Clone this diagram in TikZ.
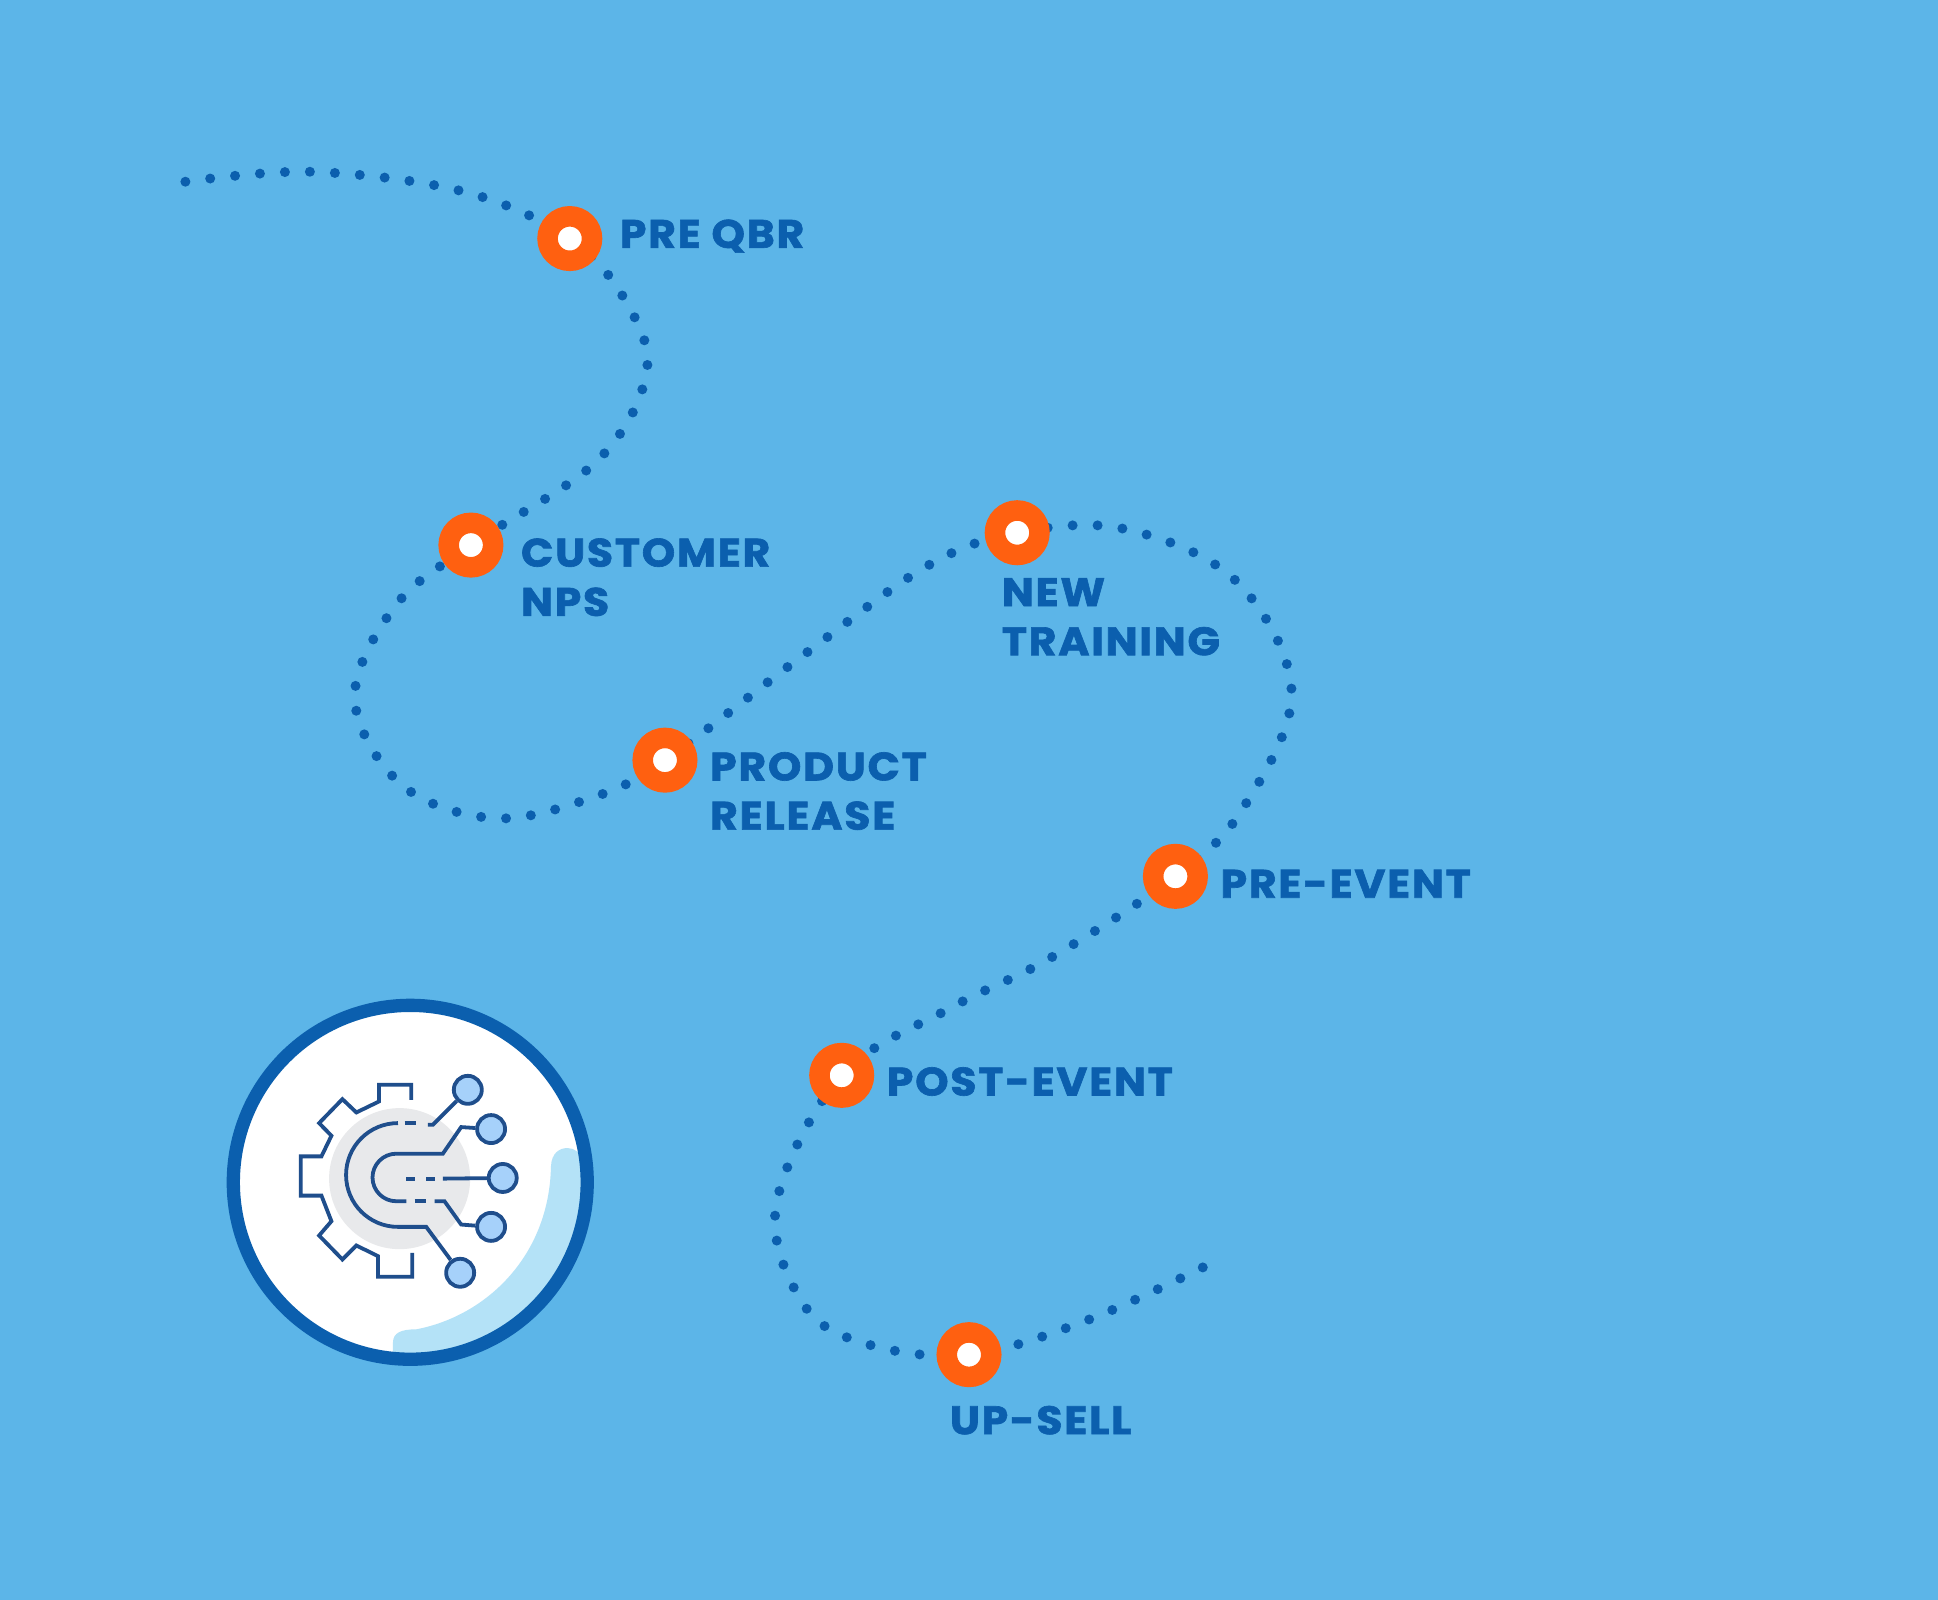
\documentclass[tikz,border=0pt]{standalone}
\usepackage{fontspec}
\setmainfont{Poppins}
\newfontfamily\stopfont[FakeStretch=1.07, FakeBold=1.6, LetterSpace=4.5]{Poppins}
\usetikzlibrary{backgrounds}
\definecolor{skycolor}{RGB}{92,181,232}
\definecolor{trailcolor}{RGB}{11,95,174}
\definecolor{stopcolor}{RGB}{255,96,16}
\definecolor{iconcolor}{RGB}{31,78,140}
\definecolor{tipcolor}{RGB}{166,209,250}
\definecolor{diskcolor}{RGB}{232,233,235}
\definecolor{swoopcolor}{RGB}{180,226,247}

\begin{document}
\begin{tikzpicture}[
    x=0.01236cm, y=-0.01236cm,
    stop/.style={circle, draw=stopcolor, fill=white, line width=2.05mm, minimum size=4.45mm, inner sep=0pt},
    stoplabel/.style={anchor=west, align=left, inner sep=0pt, text=trailcolor, font=\fontsize{11.3}{14}\stopfont\bfseries},
    trail/.style={draw=trailcolor, line width=1mm, line cap=round, dash pattern=on 0pt off 2.5mm},
    tip/.style={circle, draw=iconcolor, fill=tipcolor, line width=0.38mm, minimum size=2.8mm, inner sep=0pt},
    wire/.style={draw=iconcolor, line width=0.38mm}
]
    \useasboundingbox (0,0) rectangle (1568,1294.5);

    % Stops along the trail
    \node[stop] (qbr) at (461,193) {};
    \node[stop] (nps) at (381,441) {};
    \node[stop] (release) at (538,615) {};
    \node[stop] (training) at (823,431) {};
    \node[stop] (preevent) at (951,709) {};
    \node[stop] (postevent) at (681,870) {};
    \node[stop] (upsell) at (784,1096) {};
    \coordinate (trailstart) at (150,147);
    \coordinate (trailend) at (978,1023);

    % Stop labels
    \node[stoplabel] (qbrtext) at (501,191) {PRE QBR};
    \node[stoplabel] (npstext) at (421,467) {CUSTOMER\\NPS};
    \node[stoplabel] (releasetext) at (574,640) {PRODUCT\\RELEASE};
    \node[stoplabel] (trainingtext) at (810,499) {NEW\\TRAINING};
    \node[stoplabel] (preeventtext) at (987,715) {PRE-EVENT};
    \node[stoplabel] (posteventtext) at (717,875) {POST-EVENT};
    \node[stoplabel] (upselltext) at (768,1149) {UP-SELL};

    % Sky and trail
    \begin{scope}[on background layer]
        \fill[skycolor] (0,0) rectangle (1568,1294.5);
        \draw[trail] plot[smooth, tension=0.6] coordinates {
            (trailstart) (253,139) (375,155) (qbr.center)
            (507,245) (523,302) (483,373) (nps.center)
            (320,490) (287,565) (325,635) (400,662) (480,645) (release.center)
            (650,530) (750,458) (training.center)
            (910,428) (1000,470) (1045,560) (1005,655) (preevent.center)
            (850,775) (770,815) (postevent.center)
            (628,975) (650,1055) (700,1087) (upsell.center)
            (880,1068) (trailend)};
    \end{scope}

    % Icon
    \begin{scope}[shift={(178,801)}, x=0.003333cm, y=-0.003333cm]
        \begin{scope}
            \clip (572,578) circle[radius=520];
            \fill[white] (572,578) circle[radius=520];
            \fill[swoopcolor] (520,1200) -- (520,1060) .. controls (520,1030) and (545,1020) .. (590,1020)
                .. controls (800,980) and (990,800) .. (995,530)
                .. controls (997,490) and (1020,475) .. (1045,475)
                .. controls (1065,475) and (1085,490) .. (1090,510) -- (1200,1200) -- cycle;
        \end{scope}
        \draw[trailcolor, line width=1.33mm] (572,578) circle[radius=532];
        \fill[diskcolor] (540,567) circle[radius=212];
        \draw[wire] (575,330) -- (575,285) -- (478,285) -- (478,335) -- (410,368) -- (368,328)
            -- (298,400) -- (335,438) -- (305,500) -- (243,500) -- (243,618) -- (305,618)
            -- (335,695) -- (298,738) -- (368,810) -- (410,768) -- (475,800) -- (475,862)
            -- (578,862) -- (578,790);
        \node[tip] (tipa) at (745,300) {};
        \node[tip] (tipb) at (815,418) {};
        \node[tip] (tipc) at (850,565) {};
        \node[tip] (tipd) at (815,712) {};
        \node[tip] (tipe) at (722,850) {};
        \draw[wire] (535,400) arc[start angle=-90, end angle=-270, radius=156] -- (620,712) -- (tipe);
        \draw[wire] (555,400) -- (590,400);
        \draw[wire] (625,405) -- (640,405) -- (tipa);
        \draw[wire] (tipb) -- (725,412) -- (670,492) -- (530,492) arc[start angle=-90, end angle=-270, radius=71.5] -- (560,635);
        \draw[wire] (585,635) -- (620,635);
        \draw[wire] (645,635) -- (675,635) -- (725,705) -- (tipd);
        \draw[wire] (560,567) -- (585,567);
        \draw[wire] (620,567) -- (645,567);
        \draw[wire] (670,567) -- (tipc);
    \end{scope}
\end{tikzpicture}
\end{document}
